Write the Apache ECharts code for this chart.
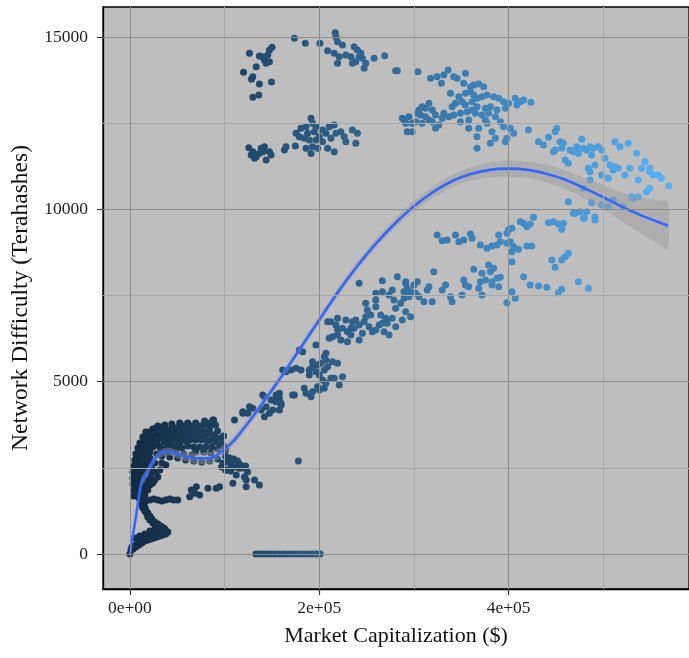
<!DOCTYPE html>
<html>
<head>
<meta charset="utf-8">
<script src="https://cdn.jsdelivr.net/npm/echarts@6/dist/echarts.min.js"></script>
<style>
html, body { margin: 0; padding: 0; background: #ffffff; }
#chart { width: 689px; height: 658px; }
</style>
</head>
<body>
<div id="chart"></div>
<script>
// Market capitalization ($) vs. network difficulty (terahashes)

// Early period: dense band near the origin
const earlyLeg = [
  [0,0],[1100,116],[2100,203],[4200,232],[7400,290],[10500,348],[13700,406],[16800,435],
  [20000,493],[23200,522],[26300,551],[29500,580],[32600,609],[35800,638],[37900,667],
  [35800,754],[32600,812],[29500,870],[26300,928],[23200,1015],[21100,1102],[18900,1189],
  [16800,1276],[15800,1363],[14700,1450],[16800,1538],[6300,464],[10500,522],[15800,580],
  [21100,667],[26300,725],[31600,754],
  [3200,145],[6300,203],[9500,261],[12600,319],[15800,377],[18900,406],[22100,435],[25300,464],
  [28400,493],[31600,522],[34700,551],[37900,580],[40000,638],
  [36800,725],[33700,725],[30500,783],[27400,841],[24200,899],[21100,986],[18900,1073],[17900,1160],
  [15800,1247],[13700,1334],[12600,1421],[11600,1567],[9500,1625],
  [21100,1567],[25300,1596],[29500,1567],[33700,1538],[37900,1567],[42100,1596],[46300,1567],[50500,1567]
];
const earlyColumn = [
  [10500,1712],[8400,1828],[7400,1944],[6300,2060],[6300,2176],[7400,2292],[6300,2408],[7400,2524],
  [8400,2640],[9500,2756],[10500,2872],[11600,2988],[12600,3104],[14700,3220],[16800,3336],[18900,3452],
  [21100,3539],[24200,3626],[12600,1857],[12600,2031],[11600,2205],[12600,2379],[13700,2553],[15800,2727],
  [17900,2843],[16800,3017],[18900,3133],[21100,3278],[24200,3365],[27400,3452],[29500,3568],[15800,1712],
  [18900,1857],[21100,2002],[17900,2147],[22100,2205],[26300,2147],[29500,2234],[27400,2379],[31600,2437],
  [23200,2466],[20000,2611],[26300,2640],[33700,2640],[37900,2582],[21100,2785],
  [4200,1683],[4200,1857],[3200,2031],[3200,2205],[3200,2379],[4200,2553],[5300,2727],[6300,2901],
  [8400,3075],[10500,3220],[13700,3394],[16800,3539],[9500,1973],[9500,2147],[9500,2321],[10500,2495],
  [11600,2669],[13700,2843],[14700,3017],[15800,1973],[14700,2263],[16800,2437],[17900,2611],[22100,2350],
  [24200,2060],[21100,2959],[24200,3104],[26300,3249],[29500,3336],[32600,3394],[34700,3510]
];
const earlyPlateau = [
  [27400,3655],[31600,3684],[35800,3655],[40000,3597],[44200,3655],[48400,3655],[52600,3684],[56800,3713],
  [61100,3684],[65300,3713],[69500,3684],[73700,3713],[77900,3742],[82100,3771],[86300,3829],[88400,3887],
  [90500,3742],[84200,3655],[92600,3568],
  [33700,3539],[37900,3423],[42100,3481],[46300,3539],[50500,3481],[54700,3568],[58900,3510],[63200,3568],
  [67400,3539],[71600,3597],[75800,3597],[80000,3539],[84200,3510],[88400,3452],[92600,3365],[96800,3307],
  [98900,3423],[42100,3307],[48400,3336],[54700,3394],[61100,3423],[67400,3423],[73700,3423],[80000,3394],
  [86300,3307],[35800,3249],[44200,3162],[52600,3191],[58900,3278],[31600,3104],[37900,3046],
  [28400,2901],[33700,2843],[42100,2814],[50500,2785],[58900,2727],[67400,2698],[75800,2669],[84200,2698],
  [92600,2756],[48400,2959],[56800,2901],[65300,2872],
  [36800,3307],[40000,3191],[46300,3394],[50500,3278],[56800,3365],[63200,3307],[69500,3307],[75800,3307],
  [82100,3278],[89500,3249],[94700,3162],[42100,3075],[48400,3104],[54700,3075],[61100,3133],[67400,3104],
  [73700,3104],[80000,3104],[86300,3104],[92600,3046],[98900,3133],[101000,3017],[69500,2959],[77900,2959],
  [85300,2930],[29500,3713],[36800,3742],[44200,3771],[52600,3800],[61100,3800],[69500,3800],[78900,3858],
  [28400,3191],[33700,3046],[40000,2959]
];
const earlyTail = [
  [101000,2843],[105300,2785],[109500,2756],[113700,2698],[103200,2669],[107400,2582],[111600,2524],
  [115800,2611],[118900,2495],[122100,2553],[96800,2524],[101000,2437],[106300,2408],[121100,2234],
  [124200,2379],[98200,2631],[101800,2437],[107000,2533],[112300,2292],[115800,2486],[119300,2515],
  [108700,2051],[122800,2147],[131600,2147],[122800,1952],[136800,2002],[64900,1857],[70200,1952],
  [73700,1712],[82400,1906],[91200,1906],[94700,1952],[63200,1662],[68400,1761],[177900,2700]
];
// Readings recorded as zero difficulty
const zeroRun = [
  [133000,0],[137000,0],[141000,0],[145000,0],[149000,0],[153000,0],[157000,0],[161000,0],[165000,0],
  [169000,0],[173000,0],[177000,0],[181000,0],[185000,0],[189000,0],[193000,0],[197000,0],[201000,0]
];
// Rising band
const risingBand = [
  [87700,3887],[110500,3887],[119300,4082],[138600,4177],[142100,3983],[147400,4082],[154400,4418],
  [157900,4177],[157900,4662],[119300,4128],[124500,4082],[129800,4227],[140300,4613],[143900,4273],
  [149100,4468],[150800,4177],[154400,4613],[157900,4517],[159700,4322],[173700,4613],
  [126300,4273],[142100,4563],[150800,4468],[156100,4613],[159700,4372],[171900,4613],[184200,4807],
  [191300,4563],[186000,4662],[192900,4708],[198200,4853],[200000,4758],[205300,4807],[207000,4952],
  [212300,5097],[215800,5097],[224500,5143],[221100,4903],[203500,5048],[200000,5193],[196500,5289],
  [189500,5193],[205300,5338],[208800,5434],[214000,5579],[219300,5532],[201800,5532],[198200,5483],
  [192900,5434],[189500,5338],[180700,5338],[175500,5387],[170200,5338],[164900,5289],[161400,5338],
  [178900,5918],[182400,5869],[196500,6063],[192900,5579],[207000,5822],[205300,5724],[207000,5628],
  [210500,6257],[214000,6304],[219300,6353],[208800,6739],[212300,6739],[219300,6838],[217600,6643],
  [219300,6498],[224500,6548],[229800,6449],[233400,6353],[236800,6548],[235000,6739],[238600,6788],
  [242100,6643],[247400,6739],[249100,6884],[252600,6594],[256100,6449],[259700,6498],[263200,6643],
  [266600,6693],[268400,6449],[271900,6693],[270200,6838],[264900,6933],[259700,7174],[259700,7563],
  [266600,7609],[273700,7513],[277100,7659],[278900,7368],[280700,7128],[286000,7273],[289500,7418],
  [296500,7609],[292900,7708],[301800,7563],[291300,7853],[282400,8044],[266600,7929],[291300,7029],
  [296500,6884],[287700,6788],[277100,6838],[280700,6594],[273700,6353],[254400,6933],[245600,6402],
  [242100,6208],[229800,6159],[222800,6208],[242100,7853],[249100,7273],[259700,7368],[250800,7078],
  [233400,6548],[228100,6788]
];
// Middle band, 7000 to 10000
const middleBand = [
  [324500,9254],[329800,9089],[335000,9109],[343900,9254],[347400,9060],[352600,9109],[359700,9283],
  [361400,9158],[370200,8964],[377100,8868],[382400,8935],[387700,8964],[389500,9254],[391300,9060],
  [398200,9303],[400000,9399],[403500,9448],[398200,9013],[401800,9060],[405300,8915],[403500,8770],
  [410500,8839],[419300,8935],[424500,8935],[412300,9640],[415800,9593],[419300,9495],[422800,9573],
  [426300,9768],[442100,9611],[447400,9640],[452600,9573],[457900,9593],[456100,9420],[468400,9884],
  [475400,9930],[480000,9739],[463100,8723],[459700,8625],[456100,8529],[445600,8529],[449100,8317],
  [403500,8480],[415800,8044],[422800,7804],[431600,7775],[440300,7737],[456100,7679],[452600,7580],
  [473700,7900],[484200,7708],[363100,8259],[371900,8143],[378900,8384],[380700,8190],[384200,8288],
  [375500,7949],[382400,7900],[387700,7998],[391300,8027],[382400,7804],[389500,7755],[370200,7900],
  [368400,7708],[371900,7513],[352600,7949],[354400,7804],[350800,7513],[333400,7804],[329800,7659],
  [338600,7464],[340300,7319],[321000,8190],[315800,7755],[314000,7659],[303500,7900],[300000,7804],
  [291300,7900],[289500,7610],[294700,7464],[305300,7464],[310500,7319],[319300,7319],[403500,7610],
  [407000,7418],[398200,7290],[357900,7755]
];
// Upper clusters, 11500 to 15000
const upperLeft = [
  [126300,14525],[136800,14447],[142100,14331],[147400,14621],[150200,14699],[143900,14235],[147400,14282],
  [133400,14137],[120000,13974],[129800,13846],[128400,13771],[136800,13635],[149500,13693],[129800,13249],
  [136100,13316],[139700,14427],[145600,14476],
  [125600,11787],[129800,11671],[133400,11526],[138600,11769],[142100,11816],[147400,11671],[149100,11575],
  [136800,11624],[131600,11479],[143900,11430],[140300,11671],[128100,11575]
];
const upperMiddle = [
  [173700,14960],[185300,14815],[200700,14815],[208800,14601],[216800,15123],[217600,15007],[219300,14862],
  [224500,14766],[215800,14525],[221100,14427],[219300,14235],[228100,14476],[233400,14427],[236800,14717],
  [240300,14621],[243900,14525],[238600,14282],[245600,14380],[249100,14235],[247400,14090],[257900,14380],
  [269100,14456],[280700,14021],[235000,14235],[242100,14427],
  [163200,11720],[164900,11816],[174700,11836],[175500,12204],[180700,12349],[186000,12397],[191300,12639],
  [192900,12494],[187700,12204],[194700,12252],[184200,12059],[189500,12010],[196500,12010],[200000,12107],
  [203500,11961],[192900,11816],[191300,11623],[186000,11769],[198200,11769],[207000,12204],[210500,12397],
  [215800,12446],[217600,12204],[212300,12059],[208800,11769],[215800,11671],[222800,12252],[226300,12107],
  [228100,11961],[235000,12300],[240300,12204],[238600,11914],[178900,12107],[196500,12397],[203500,12300]
];
const upperRight = [
  [282400,14021],[304200,13992],[317600,13800],[324500,13846],[331600,13896],[336100,14041],[342100,13846],
  [345600,13800],[354400,13945],[329100,13655],[352600,13655],[359700,13556],[363100,13606],[368400,13635],
  [373700,13556],[354400,13365],[359700,13412],[338600,13365],[347400,13266],[350800,13121],[343900,13074],
  [363100,13316],[366600,13220],[371900,13266],[377100,13316],[384200,13266],[389500,13220],[394700,13121],
  [400000,13074],[407000,13220],[412300,13121],[415800,13170],[423500,13103],[408700,13025],[396500,12930],
  [387700,12880],[380700,12976],[375500,12930],[366600,12976],[361400,12880],[356100,12831],[349100,12785],
  [342100,12735],[336800,12686],[331600,12785],[329800,12639],[322800,12735],[319300,12880],[315800,12590],
  [312300,12930],[308700,12976],[307000,12735],[303500,12785],[301800,12541],[294700,12686],[289500,12590],
  [287700,12639],[291300,12494],[298200,12494],[292900,12251],[298200,12251],[319300,12541],[326300,12445],
  [322800,12349],[357900,12590],[349100,12541],[357900,12349],[368400,12349],[375500,12590],[377100,12494],
  [382400,12251],[386000,12059],[380700,11914],[366600,12106],[366600,11769],[394700,12396],[401800,12349],
  [405300,12204],[398200,12059],[396500,11961],[421000,12300],[431600,11961],[436800,11865],[442100,12088],
  [312300,12686],[308700,12494],[315800,13074],[305300,12880],[340300,12976],[364900,12785],[371900,12735],
  [378900,12785],[386000,12686],[391300,12541],[361400,13121],[354400,13025]
];
// Late period, 9500 to 12400
const latePeriod = [
  [449100,12251],[450900,12349],[454400,11961],[457900,11914],[449100,11720],[447400,11671],[456100,11769],
  [459700,11430],[463100,11334],[464900,11720],[468400,11671],[471900,11816],[473700,11624],[477200,12030],
  [478900,11769],[482400,11720],[486000,11816],[489500,11769],[487700,11575],[494700,11816],[498200,11720],
  [501800,11479],[491200,11285],[484200,11189],[486000,11090],[498200,10995],[505300,10899],[507000,11285],
  [510500,11140],[512300,11236],[515800,11189],[512300,11961],[517600,11816],[526300,11914],[535100,11624],
  [543900,11381],[540300,11189],[528100,11189],[522800,10995],[536800,10850],[549100,11189],[552600,10995],
  [557900,10995],[561400,10899],[549100,11090],[569100,10676],[549100,10609],[545600,10510],[536800,10365],
  [531600,10319],[529800,10365],[510500,10269],[505300,10075],[498200,10125],[487700,10191],[482400,9930],
  [478900,9739],[491200,9786],[491200,9689],[470200,9884],[463100,10220],[478900,10609],[486000,10850],
  [521100,10075]
];

// Smoothed trend with its confidence band
const smoothX = [0,6000,12300,15800,22000,28100,36800,42100,50000,59700,68000,77200,86000,94700,101000,
  108700,117000,126300,136800,146000,157900,170000,185000,200000,220000,240000,260000,280000,300000,
  320000,340000,360000,380000,400000,420000,440000,460000,480000,500000,520000,540000,560000,568400];
const smoothY = [0,1020,2097,2243,2560,2823,2968,2968,2900,2823,2780,2776,2794,2921,3060,
  3258,3530,3860,4250,4600,5060,5555,6175,6790,7610,8350,9010,9590,10090,
  10495,10815,11025,11145,11180,11145,11035,10860,10615,10350,10070,9825,9610,9526];
const bandLo = [-60,930,1957,2103,2440,2713,2858,2858,2780,2683,2620,2606,2624,2761,2910,
  3118,3400,3735,4130,4485,4950,5445,6060,6670,7485,8220,8875,9450,9940,
  10335,10640,10830,10930,10945,10900,10780,10590,10315,10000,9650,9305,8970,8826];
const bandHi = [60,1110,2237,2383,2680,2933,3078,3078,3020,2963,2940,2946,2964,3081,3210,
  3398,3660,3985,4370,4715,5170,5665,6290,6910,7735,8480,9145,9730,10240,
  10655,10990,11220,11360,11415,11390,11290,11130,10915,10700,10490,10345,10250,10226];

// Axis ticks and reference lines
const xTicks = [0, 200000, 400000];
const xTickLabels = ['0e+00', '2e+05', '4e+05'];
const xMinorLines = [100000, 300000, 500000];
const yTicks = [0, 5000, 10000, 15000];
const yTickLabels = ['0', '5000', '10000', '15000'];
const yMinorLines = [2500, 7500, 12500];

const points = [].concat(earlyLeg, earlyColumn, earlyPlateau, earlyTail, zeroRun, risingBand,
  middleBand, upperLeft, upperMiddle, upperRight, latePeriod);

const SERIF = '"Liberation Serif", "DejaVu Serif", serif';
const MAJOR = '#8c8c8c';
const MINOR = '#a9a9a9';

const gridLines = [].concat(
  xMinorLines.map(v => ({ xAxis: v, lineStyle: { color: MINOR, width: 1, type: 'solid' } })),
  yMinorLines.map(v => ({ yAxis: v, lineStyle: { color: MINOR, width: 1, type: 'solid' } })),
  xTicks.map(v => ({ xAxis: v, lineStyle: { color: MAJOR, width: 1, type: 'solid' } })),
  yTicks.map(v => ({ yAxis: v, lineStyle: { color: MAJOR, width: 1, type: 'solid' } }))
);

const chart = echarts.init(document.getElementById('chart'), null, { renderer: 'canvas' });

chart.setOption({
  animation: false,
  backgroundColor: '#ffffff',
  grid: {
    left: 103, top: 7, right: -2, bottom: 69,
    show: true, backgroundColor: '#bebebe', borderColor: '#000000', borderWidth: 1.3
  },
  xAxis: {
    type: 'value', min: -28421, max: 590526,
    name: 'Market Capitalization ($)', nameLocation: 'middle', nameGap: 36,
    nameTextStyle: { fontFamily: SERIF, fontSize: 22, color: '#111' },
    axisLine: { show: true, onZero: false, lineStyle: { color: '#000', width: 1.3 } },
    axisTick: { show: true, length: 6, customValues: xTicks, lineStyle: { color: '#333', width: 1.2 } },
    axisLabel: {
      customValues: xTicks, margin: 10, fontFamily: SERIF, fontSize: 17.5, color: '#222',
      formatter: v => xTickLabels[xTicks.indexOf(v)]
    },
    splitLine: { show: false }
  },
  yAxis: {
    type: 'value', min: -1015, max: 15870,
    name: 'Network Difficulty (Terahashes)', nameLocation: 'middle', nameGap: 70,
    nameTextStyle: { fontFamily: SERIF, fontSize: 23.5, color: '#111' },
    axisLine: { show: true, onZero: false, lineStyle: { color: '#000', width: 1.3 } },
    axisTick: { show: true, length: 6, customValues: yTicks, lineStyle: { color: '#333', width: 1.2 } },
    axisLabel: {
      customValues: yTicks, margin: 15, fontFamily: SERIF, fontSize: 17.5, color: '#222',
      formatter: v => yTickLabels[yTicks.indexOf(v)]
    },
    splitLine: { show: false }
  },
  visualMap: {
    show: false, type: 'continuous', seriesIndex: 1, dimension: 0,
    min: 0, max: 570000,
    inRange: { color: ['#132B43', '#56B1F7'] }
  },
  series: [
    {
      // panel grid lines
      type: 'scatter', data: [], z: 1, silent: true,
      markLine: {
        silent: true, symbol: ['none', 'none'], animation: false,
        label: { show: false }, data: gridLines
      }
    },
    {
      type: 'scatter', data: points, symbolSize: 7, z: 2,
      itemStyle: { opacity: 1 }
    },
    {
      type: 'custom', z: 3, silent: true,
      data: smoothX.map((x, i) => [x, bandLo[i], bandHi[i]]),
      encode: { x: 0, y: [1, 2] },
      renderItem: function (params, api) {
        if (params.dataIndex !== 0) return null;
        const upper = smoothX.map((x, i) => api.coord([x, bandHi[i]]));
        const lower = smoothX.map((x, i) => api.coord([x, bandLo[i]])).reverse();
        return {
          type: 'polygon',
          shape: { points: upper.concat(lower), smooth: 0.2 },
          style: { fill: '#999999', opacity: 0.45 }
        };
      }
    },
    {
      type: 'line', z: 4, silent: true,
      data: smoothX.map((x, i) => [x, smoothY[i]]),
      showSymbol: false, smooth: 0.3,
      lineStyle: { color: '#3366FF', width: 2.6 }
    }
  ]
});
</script>
</body>
</html>
